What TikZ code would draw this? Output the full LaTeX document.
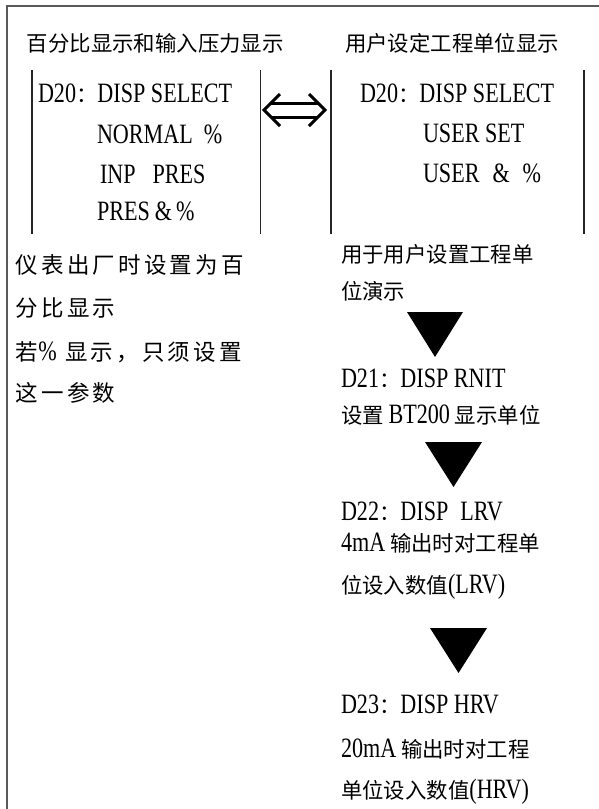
\documentclass[tikz,border=0pt]{standalone}
\usepackage{fontspec}
\setmainfont{Liberation Serif}
\newfontfamily\cjk{Noto Sans CJK SC}
\newfontfamily\cjkwide[LetterSpace=14]{Noto Sans CJK SC}
\newfontfamily\lat[FakeStretch=0.79]{Liberation Serif}
\newcommand\en[1]{{\lat\fontsize{28pt}{28pt}\selectfont #1}}
\begin{document}
\begin{tikzpicture}[x=1pt,y=-1pt,
  txt/.style={anchor=base west, inner sep=0pt, outer sep=0pt, font={\cjk\fontsize{21.4pt}{22pt}\selectfont}},
  widetxt/.style={txt, font={\cjkwide\fontsize{22.5pt}{23pt}\selectfont}},
  frameline/.style={draw=black!65, line width=2pt},
  boxline/.style={draw=black!85, line width=1.3pt},
  tri/.style={fill=black},
  dblarrow/.style={draw=black, line width=3pt, line join=miter}]
\useasboundingbox (0,0) rectangle (599,809);
% frame
\draw[frameline] (7,809) -- (7,6) -- (599,6);
% titles
\node[txt] (t1) at (27,51) {百分比显示和输入压力显示};
\node[txt] (t2) at (345,51) {用户设定工程单位显示};
% box lines
\draw[boxline] (32,70) -- (32,234);
\draw[boxline] (260.5,70) -- (260.5,234);
\draw[boxline] (331,70) -- (331,234);
\draw[boxline] (584,70) -- (584,234);
% double arrow
\draw[dblarrow] (280,94) -- (264,110) -- (280,126);
\draw[dblarrow] (309,94) -- (325,110) -- (309,126);
\draw[dblarrow] (271,103) -- (318,103);
\draw[dblarrow] (271,117) -- (318,117);
% left box
\node[txt] (l1) at (38,102) {\en{D20}：\en{DISP SELECT}};
\node[txt] (l2) at (97,143) {\en{NORMAL\hspace{11pt}\%}};
\node[txt] (l3) at (100,183) {\en{INP\hspace{17pt}PRES}};
\node[txt] (l4) at (97,220) {\en{PRES\hspace{5pt}\&\hspace{4pt}\%}};
% right box
\node[txt] (r1) at (360,102) {\en{D20}：\en{DISP SELECT}};
\node[txt] (r2) at (423,142) {\en{USER SET}};
\node[txt] (r3) at (423,182) {\en{USER\hspace{13pt}\&\hspace{13pt}\%}};
% lower left
\node[widetxt] (a1) at (16,273) {仪表出厂时设置为百};
\node[widetxt] (a2) at (16,316) {分比显示};
\node[widetxt] (a3) at (16,360) {若\en{\%} 显示，只须设置};
\node[widetxt] (a4) at (16,401) {这一参数};
% lower right
\node[txt] (b1) at (341,262) {用于用户设置工程单};
\node[txt] (b2) at (341,299) {位演示};
\fill[tri] (407,312) -- (463,312) -- (435,357) -- cycle;
\node[txt] (c1) at (341,387) {\en{D21}：\en{DISP RNIT}};
\node[txt] (c2) at (341,423) {设置 \en{BT200} 显示单位};
\fill[tri] (425,442) -- (482,442) -- (453.5,487) -- cycle;
\node[txt] (d1) at (341,520) {\en{D22}：\en{DISP\hspace{12pt}LRV}};
\node[txt] (d2) at (341,551) {\en{4mA} 输出时对工程单};
\node[txt] (d3) at (341,593) {位设入数值\en{(LRV)}};
\fill[tri] (430,628) -- (487,628) -- (458.5,673) -- cycle;
\node[txt] (e1) at (341,713) {\en{D23}：\en{DISP HRV}};
\node[txt] (e2) at (341,757) {\en{20mA} 输出时对工程};
\node[txt] (e3) at (341,798) {单位设入数值\en{(HRV)}};
\end{tikzpicture}
\end{document}
